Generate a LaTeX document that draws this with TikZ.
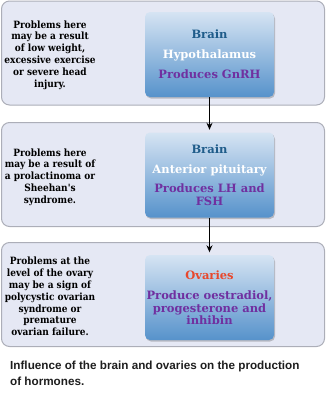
\documentclass[tikz,border=0pt]{standalone}
\usepackage{fontspec}
\setmainfont{DejaVu Serif}
\newfontfamily\condserif{DejaVu Serif Condensed}
\newfontfamily\capfont{Liberation Sans}
\usetikzlibrary{arrows.meta,shadows}

\definecolor{panelfill}{RGB}{229,232,244}
\definecolor{paneledge}{RGB}{172,174,184}
\definecolor{boxtop}{RGB}{214,228,243}
\definecolor{boxbottom}{RGB}{86,146,203}
\definecolor{brainblue}{RGB}{31,92,138}
\definecolor{hormone}{RGB}{112,48,160}
\definecolor{ovaryred}{RGB}{232,72,44}
\definecolor{capgray}{RGB}{30,30,30}

\begin{document}
\begin{tikzpicture}[x=1pt,y=-1pt,
    panel/.style={draw=paneledge, line width=1pt, fill=panelfill,
        rounded corners=8pt, minimum width=323pt, minimum height=104pt, inner sep=0pt},
    organ/.style={rounded corners=5pt, top color=boxtop, bottom color=boxbottom,
        minimum width=129pt, minimum height=85pt, inner sep=0pt, align=center,
        font=\bfseries\fontsize{11.5}{12.3}\selectfont,
        drop shadow={shadow xshift=1pt, shadow yshift=-1.5pt, opacity=0.3, fill=black!70}},
    cause/.style={align=center, font=\condserif\bfseries\fontsize{10}{11.8}\selectfont},
    link/.style={line width=1.4pt, -{Stealth[length=7pt,width=6pt]}, shorten >=2.5pt}]

    \useasboundingbox (0,0) rectangle (327,399);

    % three levels
    \node[panel] (panel1) at (163,53) {};
    \node[panel] (panel2) at (163,174.5) {};
    \node[panel] (panel3) at (163,294.5) {};

    \node[organ] (brain1) at (209.5,54.5)
        {\textcolor{brainblue}{Brain}\\[7.5pt]
         \textcolor{white}{Hypothalamus}\\[7.5pt]
         \textcolor{hormone}{Produces GnRH}};
    \node[organ] (brain2) at (209.5,175)
        {\textcolor{brainblue}{Brain}\\[7.5pt]
         \textcolor{white}{Anterior pituitary}\\[7.5pt]
         \textcolor{hormone}{Produces LH and}\\
         \textcolor{hormone}{FSH}};
    \node[organ] (ovaries) at (209.5,297.5)
        {\textcolor{ovaryred}{Ovaries}\\[8.5pt]
         \textcolor{hormone}{Produce oestradiol,}\\
         \textcolor{hormone}{progesterone and}\\
         \textcolor{hormone}{inhibin}};

    \node[cause] (cause1) at (50,55)
        {Problems here\\may be a result\\of low weight,\\excessive exercise\\or severe head\\injury.};
    \node[cause] (cause2) at (50,177)
        {Problems here\\may be a result of\\a prolactinoma or\\Sheehan's\\syndrome.};
    \node[cause] (cause3) at (50,296.5)
        {Problems at the\\level of the ovary\\may be a sign of\\polycystic ovarian\\syndrome or\\premature\\ovarian failure.};

    \draw[link] (brain1) -- (brain2);
    \draw[link] (brain2) -- (ovaries);

    \node[anchor=north west, align=left, inner sep=0pt, text=capgray,
        font=\capfont\bfseries\fontsize{11.7}{16}\selectfont] (caption) at (10,361)
        {Influence of the brain and ovaries on the production\\of hormones.};
\end{tikzpicture}
\end{document}
